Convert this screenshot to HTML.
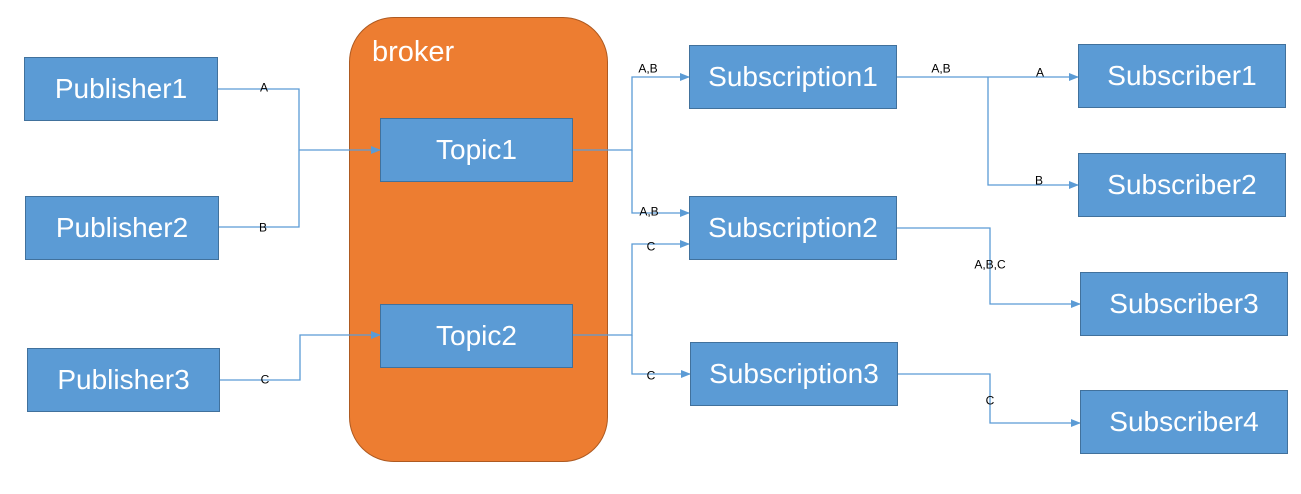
<!DOCTYPE html>
<html><head><meta charset="utf-8"><style>
body{margin:0;background:#fff;width:1301px;height:494px;overflow:hidden;position:relative;font-family:"Liberation Sans",sans-serif}
.b{position:absolute;background:#5B9BD5;border:1px solid #41719C;box-sizing:border-box;color:#fff;font-size:28px;display:flex;align-items:center;justify-content:center}
.l{position:absolute;font-size:12px;color:#000;transform:translate(-50%,-60%);white-space:nowrap}
#broker{position:absolute;left:349px;top:17px;width:259px;height:445px;background:#ED7D31;border:1px solid #AE5A21;box-sizing:border-box;border-radius:45px}
#bt{position:absolute;left:372px;top:36px;color:#fff;font-size:29px}
svg{position:absolute;left:0;top:0}
</style></head><body>
<div id="broker"></div><div id="bt">broker</div>
<svg width="1301" height="494">
<defs><marker id="a" markerWidth="10" markerHeight="8" refX="9" refY="4" orient="auto" markerUnits="userSpaceOnUse"><path d="M0,0 L10,4 L0,8z" fill="#5B9BD5"/></marker></defs>
<g fill="none" stroke="#5B9BD5" stroke-width="1.3">
<path d="M218,89 H299 V227 H218"/>
<path d="M299,150 H380" marker-end="url(#a)"/>
<path d="M220,380 H300 V335 H380" marker-end="url(#a)"/>
<path d="M573,150 H632 V77 H689" marker-end="url(#a)"/>
<path d="M632,150 V213 H689" marker-end="url(#a)"/>
<path d="M573,335 H632 V244 H689" marker-end="url(#a)"/>
<path d="M632,335 V374 H690" marker-end="url(#a)"/>
<path d="M897,77 H988 H1078" marker-end="url(#a)"/>
<path d="M988,77 V185 H1078" marker-end="url(#a)"/>
<path d="M897,228 H990 V304 H1080" marker-end="url(#a)"/>
<path d="M897,374 H990 V423 H1080" marker-end="url(#a)"/>
</g></svg>
<div class="b" style="left:24px;top:57px;width:194px;height:64px">Publisher1</div>
<div class="b" style="left:25px;top:196px;width:194px;height:64px">Publisher2</div>
<div class="b" style="left:27px;top:348px;width:193px;height:64px">Publisher3</div>
<div class="b" style="left:380px;top:118px;width:193px;height:64px">Topic1</div>
<div class="b" style="left:380px;top:304px;width:193px;height:64px">Topic2</div>
<div class="b" style="left:689px;top:45px;width:208px;height:64px">Subscription1</div>
<div class="b" style="left:689px;top:196px;width:208px;height:64px">Subscription2</div>
<div class="b" style="left:690px;top:342px;width:208px;height:64px">Subscription3</div>
<div class="b" style="left:1078px;top:44px;width:208px;height:64px">Subscriber1</div>
<div class="b" style="left:1078px;top:153px;width:208px;height:64px">Subscriber2</div>
<div class="b" style="left:1080px;top:272px;width:208px;height:64px">Subscriber3</div>
<div class="b" style="left:1080px;top:390px;width:208px;height:64px">Subscriber4</div>
<div class="l" style="left:264px;top:89px">A</div>
<div class="l" style="left:263px;top:229px">B</div>
<div class="l" style="left:265px;top:381px">C</div>
<div class="l" style="left:648px;top:70px">A,B</div>
<div class="l" style="left:649px;top:213px">A,B</div>
<div class="l" style="left:651px;top:248px">C</div>
<div class="l" style="left:651px;top:377px">C</div>
<div class="l" style="left:941px;top:70px">A,B</div>
<div class="l" style="left:1040px;top:74px">A</div>
<div class="l" style="left:1039px;top:182px">B</div>
<div class="l" style="left:990px;top:266px">A,B,C</div>
<div class="l" style="left:990px;top:402px">C</div>
</body></html>
